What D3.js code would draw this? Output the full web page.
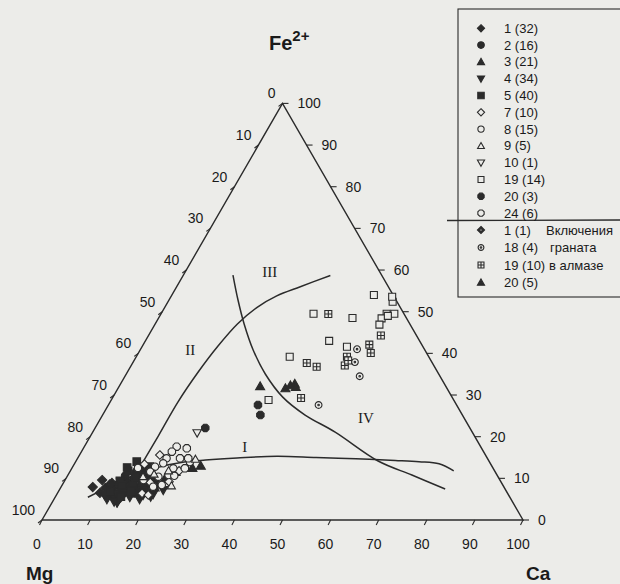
<!DOCTYPE html>
<html>
<head>
<meta charset="utf-8">
<script src="https://cdn.jsdelivr.net/npm/d3@7"></script>
<style>
body { margin: 0; background: #ecece9; }
svg { display: block; font-family: Arial, "Liberation Sans", sans-serif; }
</style>
</head>
<body>
<div id="container"></div>
<script>
// every point is [Ca, Fe2+] in %, Mg = 100 - Ca - Fe
var s1 = [[6.6,7.9],[7.7,9.6],[10.7,6.0],[12.6,5.3],[8.8,6.5],[12.4,7.7],[10.1,8.9],[14.5,6.7],[15.2,8.2],[13.4,4.8],[12.3,9.8],[17.2,7.2],[18.2,8.6],[9.3,7.7]];
var s2 = [[11.5,8.5],[13.0,9.0],[14.2,7.5],[12.0,10.6],[15.8,9.6],[16.5,7.9],[13.6,6.2],[11.0,7.1],[17.8,10.4],[14.8,11.0],[16.0,6.4],[18.9,9.2],[13.8,11.6],[17.0,8.4]];
var s3 = [[12.8,7.0],[14.0,8.8],[10.5,8.0],[16.8,8.6],[19.5,7.8],[15.3,6.8],[13.8,10.2],[17.5,11.2],[20.6,9.8],[26.5,13.0],[22.0,11.5],[25.0,12.5],[11.8,5.8],[15.6,11.8]];
var s4 = [[11.0,5.0],[13.5,4.2],[15.5,5.5],[17.8,5.0],[20.0,6.2],[12.2,6.4],[14.6,9.6],[16.6,10.2],[18.4,7.0],[10.0,6.0],[13.0,8.0],[19.8,8.5],[21.6,7.2],[15.0,12.0],[19.8,5.6],[12.8,4.4],[16.2,7.4],[11.8,9.2],[18.0,6.0]];
var s5 = [[12.7,14.0],[11.5,9.4],[13.2,7.6],[14.8,8.4],[10.6,7.0],[16.2,9.2],[12.0,11.8],[14.0,12.2],[17.4,6.6],[18.8,8.0],[13.6,5.6],[15.6,10.8],[11.4,12.6],[16.0,12.8],[15.0,7.0],[17.0,9.8],[12.5,8.3],[14.2,10.4]];
var s7 = [[16.7,15.6],[17.6,6.4],[19.1,6.0],[14.6,13.4],[21.8,9.2],[18.0,9.0],[22.6,11.8]];
var s8 = [[18.5,14.8],[18.4,13.6],[17.1,12.8],[21.1,12.4],[20.9,10.8],[19.0,10.4],[16.3,9.6],[20.7,8.4],[19.1,8.0],[13.7,12.5],[23.8,13.9],[16.7,11.6],[22.2,10.6]];
var s9 = [[20.4,11.8],[17.8,11.0],[22.8,8.2],[15.8,10.4],[24.6,14.6]];
var s10 = [[21.8,20.9]];
var s19 = [[42.0,54.0],[46.7,52.4],[48.5,49.5],[46.9,49.5],[46.4,48.4],[46.7,46.9],[31.7,49.5],[40.3,48.5],[38.2,43.0],[42.6,41.6],[31.9,39.2],[32.7,28.8],[46.0,53.6],[47.4,49.0]];
var s20 = [[22.9,22.1],[31.1,27.6],[32.8,25.2]];
var s24 = [[19.2,17.6],[21.5,17.2],[18.8,16.4],[23.0,14.8],[21.3,14.8],[23.5,12.4]];
// inclusions in diamond
var inc1 = [[9.8,8.6]];
var inc18 = [[45.0,41.0],[46.1,37.9],[48.8,34.5],[43.7,27.6]];
var inc19 = [[34.8,49.45],[48.3,44.3],[47.0,42.1],[48.3,40.1],[43.8,39.2],[44.4,37.1],[36.2,37.7],[38.7,36.8],[39.2,29.3],[44.5,38.3]];
var inc20 = [[29.3,32.1],[34.8,31.6],[35.5,32.3],[36.2,32.7],[36.8,31.9]];

// field boundaries
var curveI = [[6.8,5.47],[10.2,8.16],[13.2,10.39],[17.8,12.63],[22.9,13.97],[26.8,14.4],[33.1,14.88],[41.2,15.3],[49.5,15.0],[57.9,14.7],[66.3,14.3],[71.4,14.0],[75.8,13.5],[79.7,11.8]];
var curveII = [[14.0,3.05],[14.0,12.17],[14.1,20.2],[14.1,28.3],[14.7,35.4],[15.7,41.7],[17.1,47.05],[19.2,51.06],[21.9,53.8],[25.7,56.0],[30.6,58.7]];
var curveIII = [[10.3,58.8],[14.35,52.8],[18.5,47.05],[23.5,40.8],[28.9,35.05],[35.3,29.5],[42.1,25.2],[50.4,21.1],[62.8,14.16],[71.5,10.8],[80.1,7.44]];

var fieldNames = ["I", "II", "III", "IV"];
var fieldPos = [[33.4,17.5],[10.4,40.8],[17.6,59.5],[55.1,24.5]];

var tickValues = [0,10,20,30,40,50,60,70,80,90,100];
var legendLabels = ["1 (32)","2 (16)","3 (21)","4 (34)","5 (40)","7 (10)","8 (15)","9 (5)","10 (1)","19 (14)","20 (3)","24 (6)","1 (1)","18 (4)","19 (10)","20 (5)"];
var legendNotes = ["Включения","граната","в алмазе"];

var W = 620, H = 584;
var ink = "#2b2b2b", paper = "#ecece9", txt = "#1a1a1a";

var svg = d3.select("#container").append("svg")
    .attr("width", W).attr("height", H);
svg.append("rect").attr("width", W).attr("height", H).attr("fill", paper);

// ternary -> screen through two linear scales
var xS = d3.scaleLinear().domain([0,100]).range([42,523]);
var yS = d3.scaleLinear().domain([0,100]).range([520,103.4]);
function proj(d) { return [xS(d[0] + d[1]/2), yS(d[1])]; }

// symbol shapes (size = half width in px)
var diamond = {draw: function(c, r) { c.moveTo(0,-r); c.lineTo(r,0); c.lineTo(0,r); c.lineTo(-r,0); c.closePath(); }};
var diamondRing = {draw: function(c, r) {
    c.moveTo(0,-r); c.lineTo(r,0); c.lineTo(0,r); c.lineTo(-r,0); c.closePath();
    var q = r*0.45; c.moveTo(0,-q); c.lineTo(-q,0); c.lineTo(0,q); c.lineTo(q,0); c.closePath(); }};
var circle = {draw: function(c, r) { c.moveTo(r,0); c.arc(0,0,r,0,2*Math.PI); }};
var bullseye = {draw: function(c, r) { c.moveTo(r,0); c.arc(0,0,r,0,2*Math.PI); c.moveTo(0.8,0); c.arc(0,0,0.8,0,2*Math.PI); }};
var square = {draw: function(c, r) { c.rect(-r,-r,2*r,2*r); }};
var squarePlus = {draw: function(c, r) { c.rect(-r,-r,2*r,2*r); c.moveTo(-r,0); c.lineTo(r,0); c.moveTo(0,-r); c.lineTo(0,r); }};
var triUp = {draw: function(c, r) { c.moveTo(0,-r); c.lineTo(r,r*0.75); c.lineTo(-r,r*0.75); c.closePath(); }};
var triDown = {draw: function(c, r) { c.moveTo(0,r); c.lineTo(r,-r*0.75); c.lineTo(-r,-r*0.75); c.closePath(); }};
var octagon = {draw: function(c, r) {
    for (var i = 0; i < 8; i++) {
        var a = Math.PI/8 + i*Math.PI/4;
        if (i == 0) c.moveTo(r*Math.cos(a), r*Math.sin(a)); else c.lineTo(r*Math.cos(a), r*Math.sin(a));
    }
    c.closePath(); }};

var series = [
    {pts: s1, type: diamond, r: 4.6, filled: true},
    {pts: s2, type: circle, r: 3.9, filled: true},
    {pts: s3, type: triUp, r: 4.6, filled: true},
    {pts: s4, type: triDown, r: 4.6, filled: true},
    {pts: s5, type: square, r: 3.8, filled: true},
    {pts: s7, type: diamond, r: 4.3, filled: false},
    {pts: s8, type: circle, r: 3.7, filled: false},
    {pts: s9, type: triUp, r: 4.0, filled: false},
    {pts: s10, type: triDown, r: 4.2, filled: false},
    {pts: s19, type: square, r: 3.5, filled: false},
    {pts: s20, type: octagon, r: 4.0, filled: true},
    {pts: s24, type: octagon, r: 4.0, filled: false},
    {pts: inc1, type: diamondRing, r: 4.3, filled: true},
    {pts: inc18, type: bullseye, r: 3.4, filled: false},
    {pts: inc19, type: squarePlus, r: 3.5, filled: false},
    {pts: inc20, type: triUp, r: 4.5, filled: true}
];

// triangle frame
svg.append("path")
    .attr("d", d3.line()([proj([0,0]), proj([100,0]), proj([0,100])]) + "Z")
    .attr("fill", "none").attr("stroke", ink).attr("stroke-width", 1.4);

// ticks and labels
var ax = svg.append("g").attr("stroke", ink).attr("stroke-width", 1.1);
tickValues.forEach(function(v) {
    var b = proj([v, 0]);       // bottom: Ca
    ax.append("line").attr("x1", b[0]).attr("y1", b[1]).attr("x2", b[0]-2.5).attr("y2", b[1]+5);
    var r = proj([100-v, v]);   // right: Fe
    ax.append("line").attr("x1", r[0]).attr("y1", r[1]).attr("x2", r[0]+6).attr("y2", r[1]);
    var l = proj([0, 100-v]);   // left: Mg
    ax.append("line").attr("x1", l[0]).attr("y1", l[1]).attr("x2", l[0]-4).attr("y2", l[1]+3);
});
var tl = svg.append("g").attr("fill", txt).attr("font-size", 14);
tl.selectAll(".tb").data(tickValues).enter().append("text")
    .attr("x", function(v) { return proj([v,0])[0] - 5; })
    .attr("y", 549).attr("text-anchor", "middle").text(function(v) { return v; });
tl.selectAll(".tr").data(tickValues).enter().append("text")
    .attr("x", function(v) { return proj([100-v,v])[0] + 15; })
    .attr("y", function(v) { return proj([100-v,v])[1] + 5; })
    .text(function(v) { return v; });
tl.selectAll(".tl").data(tickValues).enter().append("text")
    .attr("x", function(v) { return proj([0,100-v])[0] - 7; })
    .attr("y", function(v) { return proj([0,100-v])[1] - 5; })
    .attr("text-anchor", "end").text(function(v) { return v; });

// corner titles
var fe = svg.append("text").attr("x", 269).attr("y", 50).attr("font-weight", "bold")
    .attr("font-size", 20).attr("fill", txt);
fe.append("tspan").text("Fe");
fe.append("tspan").attr("font-size", 15).attr("dy", -9).text("2+");
svg.append("text").attr("x", 26).attr("y", 580).attr("font-weight", "bold").attr("font-size", 19)
    .attr("fill", txt).text("Mg");
svg.append("text").attr("x", 526).attr("y", 580).attr("font-weight", "bold").attr("font-size", 19)
    .attr("fill", txt).text("Ca");

// field boundaries
var lineGen = d3.line().x(function(d) { return proj(d)[0]; }).y(function(d) { return proj(d)[1]; })
    .curve(d3.curveCatmullRom);
[curveI, curveII, curveIII].forEach(function(c) {
    svg.append("path").attr("d", lineGen(c))
        .attr("fill", "none").attr("stroke", ink).attr("stroke-width", 1.5);
});
svg.selectAll(".field").data(fieldNames).enter().append("text")
    .attr("x", function(d, i) { return proj(fieldPos[i])[0]; })
    .attr("y", function(d, i) { return proj(fieldPos[i])[1] + 5; })
    .attr("text-anchor", "middle")
    .attr("font-family", "'Liberation Serif', 'Times New Roman', serif")
    .attr("font-size", 15).attr("fill", txt)
    .text(function(d) { return d; });

// data points
series.forEach(function(s) {
    var sym = d3.symbol().type(s.type).size(s.r);
    svg.append("g").selectAll("path").data(s.pts).enter().append("path")
        .attr("transform", function(d) { var p = proj(d); return "translate(" + p[0] + "," + p[1] + ")"; })
        .attr("d", sym)
        .attr("fill", s.filled ? ink : paper)
        .attr("fill-rule", "evenodd")
        .attr("stroke", ink).attr("stroke-width", 1.1);
});

// legend
var lg = svg.append("g");
lg.append("rect").attr("x", 458).attr("y", 9).attr("width", 180).attr("height", 288)
    .attr("fill", "none").attr("stroke", ink).attr("stroke-width", 1.1);
lg.append("line").attr("x1", 447).attr("y1", 220.5).attr("x2", 620).attr("y2", 220)
    .attr("stroke", ink).attr("stroke-width", 1.3);
function rowY(i) { return i < 12 ? 28.3 + i*16.8 : 230 + (i-12)*17.5; }
series.forEach(function(s, i) {
    lg.append("path").attr("transform", "translate(481," + rowY(i) + ")")
        .attr("d", d3.symbol().type(s.type).size(Math.min(s.r, 4.2)*0.85))
        .attr("fill", s.filled ? ink : paper).attr("fill-rule", "evenodd")
        .attr("stroke", ink).attr("stroke-width", 1.1);
    lg.append("text").attr("x", 504).attr("y", rowY(i) + 4.5)
        .attr("font-size", 13).attr("fill", txt).text(legendLabels[i]);
});
var noteX = [546, 550, 549];
legendNotes.forEach(function(t, i) {
    lg.append("text").attr("x", noteX[i]).attr("y", rowY(12+i) + 4.5)
        .attr("font-size", 13).attr("fill", txt).text(t);
});
</script>
</body>
</html>
